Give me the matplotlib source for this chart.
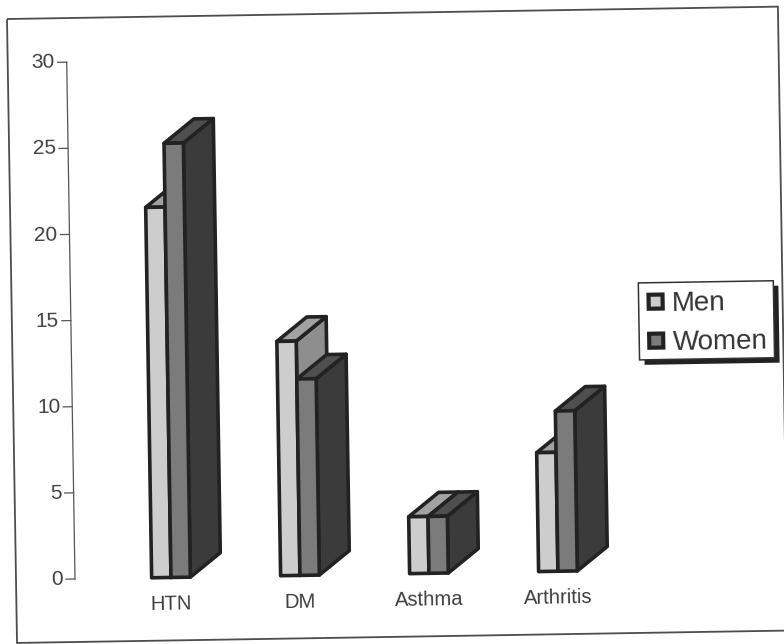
import matplotlib
matplotlib.use("Agg")
from matplotlib import pyplot as plt
from matplotlib.patches import Polygon, Rectangle
from matplotlib.transforms import Affine2D

plt.rcParams['font.family'] = ['Liberation Sans', 'DejaVu Sans']

categories = ["HTN", "DM", "Asthma", "Arthritis"]
men = [21.5, 13.6, 3.3, 6.9]
women = [25.2, 11.4, 3.3, 9.3]
y_ticks = [0, 5, 10, 15, 20, 25, 30]
legend_labels = ["Men", "Women"]

W, H = 784, 644
TILT = 0.92
BAR_W = 0.15
DEPTH_X = 0.235
DEPTH_Y = 1.39
EDGE = '#222222'
TEXT = '#3e3e3e'

# front, top, side colours
men_faces = ('#cdcdcd', '#a2a2a2', '#8e8e8e')
women_faces = ('#7b7b7b', '#4f4f4f', '#3b3b3b')

fig = plt.figure(figsize=(W / 100, H / 100), dpi=100)
ax = fig.add_axes([0, 0, 1, 1])
ax.set_xlim(-171 / 129, (W - 171) / 129)
ax.set_ylim((579 - H) / 17.23, 579 / 17.23)
ax.axis('off')

# whole sheet sits slightly crooked
tilt = Affine2D().rotate_deg_around(75, H - 579, TILT)
tr = ax.transData + tilt
page = Affine2D().scale(1, -1).translate(0, H) + tilt


def draw_bar(left, height, faces):
    right = left + BAR_W
    style = dict(edgecolor=EDGE, linewidth=2.6, joinstyle='round', transform=tr, clip_on=False)
    side = [(right, 0), (right + DEPTH_X, DEPTH_Y), (right + DEPTH_X, height + DEPTH_Y), (right, height)]
    top = [(left, height), (left + DEPTH_X, height + DEPTH_Y), (right + DEPTH_X, height + DEPTH_Y), (right, height)]
    ax.add_patch(Polygon(side, facecolor=faces[2], **style))
    ax.add_patch(Polygon(top, facecolor=faces[1], **style))
    ax.add_patch(Rectangle((left, 0), BAR_W, height, facecolor=faces[0], **style))


for i in range(len(categories)):
    draw_bar(i - BAR_W, men[i], men_faces)
    draw_bar(i, women[i], women_faces)
    ax.text(i, -1.55, categories[i], ha='center', va='center', fontsize=14.6, color=TEXT,
            rotation=TILT, rotation_mode='anchor', transform=tr)

# y axis
axis_x = -96 / 129
tick_x = -105 / 129
ax.plot([axis_x, axis_x], [0, 30], color='#555555', lw=0.9, transform=tr, clip_on=False)
for t in y_ticks:
    ax.plot([tick_x, axis_x], [t, t], color='#555555', lw=0.9, transform=tr, clip_on=False)
    ax.text(-108 / 129, t, str(t), ha='right', va='center', fontsize=15, color=TEXT,
            rotation=TILT, rotation_mode='anchor', transform=tr)

# border around the chart
ax.add_patch(Rectangle((16, 18), 771, 624, fill=False, edgecolor='#4d4d4d', linewidth=1.3,
                       transform=page, clip_on=False))

# legend box with drop shadow
ax.add_patch(Rectangle((648, 297), 135, 77, facecolor='#222222', edgecolor='none', transform=page))
ax.add_patch(Rectangle((643, 292), 135, 77, facecolor='white', edgecolor='#333333', linewidth=1.1,
                       transform=page))
for label, faces, yc in zip(legend_labels, (men_faces, women_faces), (311, 350)):
    ax.add_patch(Rectangle((653, yc - 7), 14, 14, facecolor=faces[0], edgecolor=EDGE, linewidth=3,
                           transform=page))
    ax.text(676, yc + 3, label, ha='left', va='center', fontsize=20, color='#333333',
            rotation=TILT, rotation_mode='anchor', transform=page)

fig.savefig("out.png", dpi=100)
